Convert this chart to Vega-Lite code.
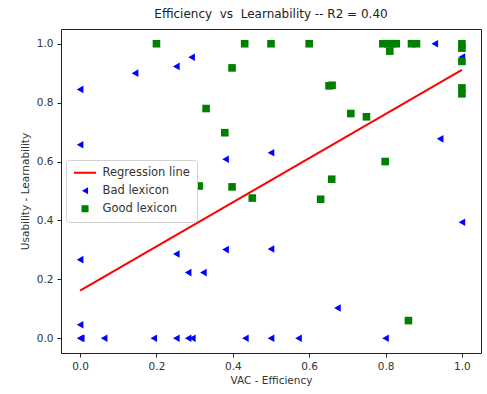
{
  "$schema": "https://vega.github.io/schema/vega-lite/v6.json",
  "autosize": "none",
  "width": 420,
  "height": 324,
  "padding": {"left": 61, "top": 29, "right": 6, "bottom": 41},
  "background": "white",
  "title": {"text": "Efficiency \u00a0vs \u00a0Learnability -- R2 = 0.40", "font": "DejaVu Sans", "fontSize": 12, "fontWeight": "normal", "color": "#222", "offset": 8},
  "datasets": {
    "pts": [
      {"series": "Bad lexicon", "eff": 0, "learn": 0.845},
      {"series": "Bad lexicon", "eff": 0, "learn": 0.657},
      {"series": "Bad lexicon", "eff": 0, "learn": 0.267},
      {"series": "Bad lexicon", "eff": 0, "learn": 0.046},
      {"series": "Bad lexicon", "eff": 0, "learn": 0},
      {"series": "Bad lexicon", "eff": 0.003, "learn": 0},
      {"series": "Bad lexicon", "eff": 0.063, "learn": 0},
      {"series": "Bad lexicon", "eff": 0.144, "learn": 0.9},
      {"series": "Bad lexicon", "eff": 0.193, "learn": 0},
      {"series": "Bad lexicon", "eff": 0.252, "learn": 0.923},
      {"series": "Bad lexicon", "eff": 0.252, "learn": 0.286},
      {"series": "Bad lexicon", "eff": 0.252, "learn": 0},
      {"series": "Bad lexicon", "eff": 0.283, "learn": 0.223},
      {"series": "Bad lexicon", "eff": 0.283, "learn": 0},
      {"series": "Bad lexicon", "eff": 0.294, "learn": 0},
      {"series": "Bad lexicon", "eff": 0.292, "learn": 0.954},
      {"series": "Bad lexicon", "eff": 0.323, "learn": 0.223},
      {"series": "Bad lexicon", "eff": 0.381, "learn": 0.608},
      {"series": "Bad lexicon", "eff": 0.381, "learn": 0.301},
      {"series": "Bad lexicon", "eff": 0.433, "learn": 0},
      {"series": "Bad lexicon", "eff": 0.5, "learn": 0},
      {"series": "Bad lexicon", "eff": 0.5, "learn": 0.63},
      {"series": "Bad lexicon", "eff": 0.5, "learn": 0.303},
      {"series": "Bad lexicon", "eff": 0.572, "learn": 0},
      {"series": "Bad lexicon", "eff": 0.674, "learn": 0.103},
      {"series": "Bad lexicon", "eff": 0.8, "learn": 0},
      {"series": "Bad lexicon", "eff": 0.929, "learn": 1.0},
      {"series": "Bad lexicon", "eff": 0.943, "learn": 0.677},
      {"series": "Bad lexicon", "eff": 1.0, "learn": 0.394},
      {"series": "Bad lexicon", "eff": 1.0, "learn": 0.955},
      {"series": "Good lexicon", "eff": 0.2, "learn": 1.0},
      {"series": "Good lexicon", "eff": 0.431, "learn": 1.0},
      {"series": "Good lexicon", "eff": 0.5, "learn": 1.0},
      {"series": "Good lexicon", "eff": 0.6, "learn": 1.0},
      {"series": "Good lexicon", "eff": 0.398, "learn": 0.918},
      {"series": "Good lexicon", "eff": 0.33, "learn": 0.78},
      {"series": "Good lexicon", "eff": 0.379, "learn": 0.698},
      {"series": "Good lexicon", "eff": 0.312, "learn": 0.517},
      {"series": "Good lexicon", "eff": 0.398, "learn": 0.514},
      {"series": "Good lexicon", "eff": 0.451, "learn": 0.476},
      {"series": "Good lexicon", "eff": 0.652, "learn": 0.857},
      {"series": "Good lexicon", "eff": 0.66, "learn": 0.859},
      {"series": "Good lexicon", "eff": 0.709, "learn": 0.763},
      {"series": "Good lexicon", "eff": 0.75, "learn": 0.752},
      {"series": "Good lexicon", "eff": 0.799, "learn": 0.6},
      {"series": "Good lexicon", "eff": 0.659, "learn": 0.54},
      {"series": "Good lexicon", "eff": 0.63, "learn": 0.472},
      {"series": "Good lexicon", "eff": 0.86, "learn": 0.06},
      {"series": "Good lexicon", "eff": 0.793, "learn": 1.0},
      {"series": "Good lexicon", "eff": 0.806, "learn": 1.0},
      {"series": "Good lexicon", "eff": 0.817, "learn": 1.0},
      {"series": "Good lexicon", "eff": 0.828, "learn": 1.0},
      {"series": "Good lexicon", "eff": 0.811, "learn": 0.975},
      {"series": "Good lexicon", "eff": 0.868, "learn": 1.0},
      {"series": "Good lexicon", "eff": 0.881, "learn": 1.0},
      {"series": "Good lexicon", "eff": 1.0, "learn": 1.0},
      {"series": "Good lexicon", "eff": 1.0, "learn": 0.985},
      {"series": "Good lexicon", "eff": 1.0, "learn": 0.94},
      {"series": "Good lexicon", "eff": 1.0, "learn": 0.85},
      {"series": "Good lexicon", "eff": 1.0, "learn": 0.83}
    ],
    "reg": [
      {"series": "Regression line", "eff": 0, "learn": 0.162},
      {"series": "Regression line", "eff": 1, "learn": 0.911}
    ]
  },
  "layer": [
    {
      "data": {"name": "reg"},
      "mark": {"type": "line", "strokeWidth": 2},
      "encoding": {
        "x": {"field": "eff", "type": "quantitative"},
        "y": {"field": "learn", "type": "quantitative"},
        "color": {"field": "series", "type": "nominal"}
      }
    },
    {
      "data": {"name": "pts"},
      "mark": {"type": "point", "filled": true, "opacity": 1, "size": 58},
      "encoding": {
        "x": {"field": "eff", "type": "quantitative"},
        "y": {"field": "learn", "type": "quantitative"},
        "color": {"field": "series", "type": "nominal"},
        "shape": {"field": "series", "type": "nominal"}
      }
    }
  ],
  "resolve": {"scale": {"color": "shared", "shape": "shared"}},
  "encoding": {
    "x": {"field": "eff", "type": "quantitative", "title": "VAC - Efficiency",
      "scale": {"domain": [-0.05, 1.05], "nice": false, "zero": false},
      "axis": {"values": [0, 0.2, 0.4, 0.6, 0.8, 1.0], "format": ".1f"}},
    "y": {"field": "learn", "type": "quantitative", "title": "Usability - Learnability",
      "scale": {"domain": [-0.05, 1.05], "nice": false, "zero": false},
      "axis": {"values": [0, 0.2, 0.4, 0.6, 0.8, 1.0], "format": ".1f"}},
    "color": {"field": "series", "type": "nominal",
      "scale": {"domain": ["Regression line", "Bad lexicon", "Good lexicon"], "range": ["#ff0000", "#0000ff", "#008000"]},
      "legend": {"title": null,
        "encode": {"symbols": {"update": {
          "x": {"value": 12},
          "stroke": {"scale": "color", "field": "value"},
          "strokeWidth": {"signal": "datum.value === 'Regression line' ? 2 : 0"},
          "size": {"signal": "datum.value === 'Regression line' ? 484 : 50"}
        }}}}},
    "shape": {"field": "series", "type": "nominal",
      "scale": {"domain": ["Regression line", "Bad lexicon", "Good lexicon"], "range": ["stroke", "triangle-left", "square"]},
      "legend": {"title": null}}
  },
  "config": {
    "view": {"stroke": "#222", "strokeWidth": 1},
    "axis": {"grid": false, "domain": false, "tickColor": "#222", "tickSize": 4, "labelFont": "DejaVu Sans", "labelFontSize": 10.5, "labelColor": "#333", "titleFont": "DejaVu Sans", "titleFontSize": 10.5, "titleFontWeight": "normal", "titleColor": "#333", "labelPadding": 4},
    "axisX": {"titlePadding": 4},
    "axisY": {"titlePadding": 6},
    "legend": {"orient": "none", "legendX": 5, "legendY": 131, "padding": 7, "fillColor": "white", "strokeColor": "#d0d0d0", "cornerRadius": 3, "labelFont": "DejaVu Sans", "labelFontSize": 11.5, "labelColor": "#333", "rowPadding": 5, "symbolOpacity": 1, "labelOffset": 18}
  }
}
